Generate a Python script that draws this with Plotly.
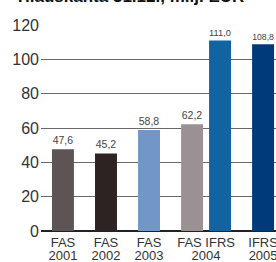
import plotly.graph_objects as go

categories = ["FAS 2001", "FAS 2002", "FAS 2003", "FAS 2004", "IFRS 2004", "IFRS 2005"]
values = [47.6, 45.2, 58.8, 62.2, 111.0, 108.8]
bar_pos = [0, 1, 2, 3, 3.65, 4.65]
colors = ["#5e5456", "#2d2323", "#7396c8", "#9b9194", "#1263a2", "#003a7a"]
tick_pos = [0, 1, 2, 3.325, 4.65]
tick_standard = ["FAS", "FAS", "FAS", "FAS IFRS", "IFRS"]
tick_years = ["2001", "2002", "2003", "2004", "2005"]
y_ticks = [0, 20, 40, 60, 80, 100, 120]
title = "Tilauskanta 31.12., milj. EUR"

labels = [f"{v:.1f}".replace(".", ",") for v in values]
xrange = [-0.51, 4.95]

fig = go.Figure(go.Bar(
    x=bar_pos, y=values, width=0.51,
    marker=dict(color=colors, line=dict(width=0)),
    text=labels, textposition="outside", cliponaxis=False,
    textfont=dict(size=10.5, color="#444", family="Liberation Sans Narrow, Liberation Sans"),
    hovertext=categories,
))
fig.add_trace(go.Scatter(x=[xrange[0]], y=[0], xaxis="x2", mode="markers",
                         marker=dict(opacity=0), hoverinfo="skip", showlegend=False))

fig.update_layout(
    width=276, height=262,
    margin=dict(l=41, r=0, t=25, b=31),
    plot_bgcolor="white", paper_bgcolor="white",
    showlegend=False,
    font=dict(family="Liberation Sans", color="#333"),
    xaxis=dict(range=xrange, tickvals=tick_pos, ticktext=tick_standard,
               showgrid=False, zeroline=False, showline=False, ticks="",
               automargin=False, ticklabelstandoff=2, ticklabeloverflow="allow",
               tickfont=dict(size=13, color="#333")),
    xaxis2=dict(range=xrange, tickvals=tick_pos, ticktext=tick_years,
                overlaying="x", side="bottom", anchor="y",
                showgrid=False, zeroline=False, showline=False, ticks="",
                automargin=False, ticklabelstandoff=15, ticklabeloverflow="allow",
                tickfont=dict(size=13, color="#333")),
    yaxis=dict(range=[0, 120], tickvals=y_ticks, showgrid=True,
               gridcolor="#6a6a6a", gridwidth=1.3, zeroline=True,
               zerolinecolor="#222", zerolinewidth=1.6, ticks="",
               automargin=False, ticklabelstandoff=1,
               tickfont=dict(size=16, color="#333")),
    annotations=[dict(text="<b>" + title + "</b>", xref="paper", yref="paper",
                      x=-41/235, xanchor="left", xshift=13, y=1.06, yanchor="bottom",
                      yshift=5, showarrow=False, font=dict(size=17, color="#111"))],
)

fig.write_html("out.html", config={"displayModeBar": False},
               post_script="document.body.style.margin='0';document.body.style.overflow='hidden';")
